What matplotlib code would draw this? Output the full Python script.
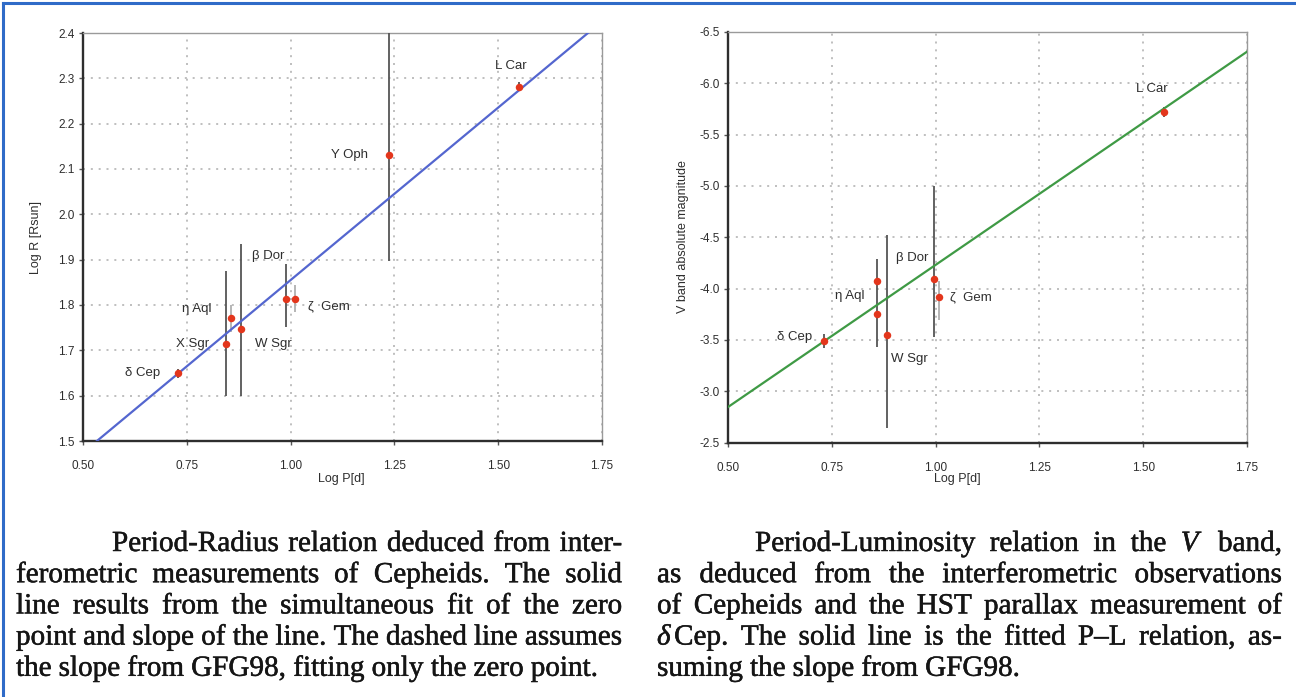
import numpy as np
import matplotlib
matplotlib.use("Agg")
import matplotlib.pyplot as plt
from matplotlib.lines import Line2D
import matplotlib.patheffects as pe

# ---------------- data ----------------
# Period-Radius panel
stars_R = ['δ Cep', 'X Sgr', 'η Aql', 'W Sgr', 'β Dor', 'ζ  Gem', 'Y Oph', 'L Car']
logP_R = [0.730, 0.845, 0.856, 0.881, 0.990, 1.010, 1.237, 1.551]
logR = [1.649, 1.715, 1.771, 1.748, 1.814, 1.814, 2.130, 2.281]
logR_err_lo = [0.010, 0.115, 0.030, 0.148, 0.062, 0.030, 0.232, 0.010]
logR_err_hi = [0.010, 0.161, 0.030, 0.187, 0.077, 0.030, 0.300, 0.010]
light_R = ['η Aql', 'ζ  Gem']
fitR_slope, fitR_icpt = 0.761, 1.094

# Period-Luminosity panel
stars_V = ['δ Cep', 'η Aql', '', 'W Sgr', 'β Dor', 'ζ  Gem', 'L Car']
logP_V = [0.731, 0.859, 0.859, 0.884, 0.996, 1.007, 1.550]
MV = [-3.488, -4.073, -3.750, -3.547, -4.093, -3.914, -5.723]
MV_err_lo = [0.070, 0.000, 0.535, 0.973, 0.907, 0.156, 0.050]
MV_err_hi = [0.070, 0.000, 0.317, 0.907, 0.563, 0.224, 0.050]
light_V = ['ζ  Gem']
fitV_slope, fitV_icpt = -2.77, -1.4605

xticks = [0.50, 0.75, 1.00, 1.25, 1.50, 1.75]
yticks_R = [1.5, 1.6, 1.7, 1.8, 1.9, 2.0, 2.1, 2.2, 2.3, 2.4]
yticks_V = [-6.5, -6.0, -5.5, -5.0, -4.5, -4.0, -3.5, -3.0, -2.5]

# label offsets (pixels) relative to their point
off_R = {'δ Cep': (-36, 0), 'X Sgr': (-34, 0), 'η Aql': (-34, 9), 'W Sgr': (32, -15),
         'β Dor': (-18, 43), 'ζ  Gem': (34, -8), 'Y Oph': (-40, 0), 'L Car': (-9, 21)}
off_V = {'δ Cep': (-29, 4), 'η Aql': (-27, -15), 'W Sgr': (22, -24), 'β Dor': (-22, 21),
         'ζ  Gem': (32, 0), 'L Car': (-12, 23)}

cap_left = [
    "Period-Radius relation deduced from inter-",
    "ferometric measurements of Cepheids. The solid",
    "line results from the simultaneous fit of the zero",
    "point and slope of the line. The dashed line assumes",
    "the slope from GFG98, fitting only the zero point.",
]
cap_right = [
    "Period-Luminosity relation in the $V$ band,",
    "as deduced from the interferometric observations",
    "of Cepheids and the HST parallax measurement of",
    "$\\delta\\,$Cep. The solid line is the fitted P–L relation, as-",
    "suming the slope from GFG98.",
]

# ---------------- style ----------------
plt.rcParams['font.family'] = ['Liberation Sans', 'DejaVu Sans']
plt.rcParams['axes.unicode_minus'] = False
plt.rcParams['mathtext.fontset'] = 'custom'
plt.rcParams['mathtext.rm'] = 'Liberation Serif'
plt.rcParams['mathtext.it'] = 'Liberation Serif:italic'

W, H = 1296, 697
fig = plt.figure(figsize=(W / 100, H / 100), dpi=100)
fig.patch.set_facecolor('white')

RED = '#e3361c'
DARKBAR = '#555555'
LIGHTBAR = '#b0b0b0'
TXT = '#2e2e2e'


def style_axes(ax):
    for s in ['left', 'bottom']:
        ax.spines[s].set_color('#2e2e2e')
        ax.spines[s].set_linewidth(1.7)
    for s in ['top', 'right']:
        ax.spines[s].set_color('#9a9a9a')
        ax.spines[s].set_linewidth(1.0)
    ax.grid(True, color='#b4b4b4', linestyle=(0, (1.2, 3.5)), linewidth=1.2)
    ax.set_axisbelow(True)
    ax.tick_params(axis='both', direction='out', length=3, width=1, color='#555555',
                   labelsize=8.5, labelcolor=TXT)
    ax.tick_params(axis='x', pad=11)
    ax.tick_params(axis='y', pad=3)
    ax.set_xlim(0.5, 1.75)
    ax.set_xticks(xticks)
    ax.set_xticklabels([f"{v:.2f}" for v in xticks])


def draw_points(ax, names, xs, ys, lo, hi, light, offsets):
    for n, x, y, l, h in zip(names, xs, ys, lo, hi):
        if l > 0 or h > 0:
            c = LIGHTBAR if n in light else DARKBAR
            ax.errorbar([x], [y], yerr=[[l], [h]], fmt='none', ecolor=c,
                        elinewidth=1.3, capsize=0, zorder=3, clip_on=True)
    ax.plot(xs, ys, 'o', color=RED, markersize=5.4, markeredgewidth=0, zorder=5)
    for n, x, y in zip(names, xs, ys):
        if n and n in offsets:
            ax.annotate(n, (x, y), xytext=offsets[n], textcoords='offset pixels',
                        ha='center', va='center', fontsize=9.5, color=TXT, zorder=6)


# ---------- left panel ----------
axL = fig.add_axes([83 / W, 1 - 441 / H, (602 - 83) / W, (441 - 33) / H])
style_axes(axL)
axL.set_ylim(1.5, 2.4)
axL.set_yticks(yticks_R)
axL.set_yticklabels([f"{v:.1f}" for v in yticks_R])
xx = np.array([0.5, 1.75])
axL.plot(xx, fitR_slope * xx + fitR_icpt, color='#5466cf', linewidth=1.6, zorder=4)
draw_points(axL, stars_R, logP_R, logR, logR_err_lo, logR_err_hi, light_R, off_R)

# ---------- right panel ----------
axR = fig.add_axes([728 / W, 1 - 442.5 / H, (1247 - 728) / W, (442.5 - 32) / H])
style_axes(axR)
axR.set_ylim(-2.5, -6.5)
axR.set_yticks(yticks_V)
axR.set_yticklabels([f"{v:.1f}" for v in yticks_V])
axR.plot(xx, fitV_slope * xx + fitV_icpt, color='#3f9a45', linewidth=1.6, zorder=4)
draw_points(axR, stars_V, logP_V, MV, MV_err_lo, MV_err_hi, light_V, off_V)

# axis labels
fig.text(36 / W, 1 - 237 / H, 'Log R [Rsun]', rotation=90, ha='center', va='center',
         fontsize=9, color=TXT)
fig.text(683 / W, 1 - 237 / H, 'V band absolute magnitude', rotation=90, ha='center',
         va='center', fontsize=9, color=TXT)
fig.text(341 / W, 1 - 479 / H, 'Log P[d]', ha='center', va='center', fontsize=9,
         color=TXT)
fig.text(957 / W, 1 - 479 / H, 'Log P[d]', ha='center', va='center', fontsize=9,
         color=TXT)

# blue frame (top and left)
fig.add_artist(Line2D([3 / W, 1.0], [1 - 3 / H, 1 - 3 / H], color='#2f6bc8',
                      linewidth=2.2, transform=fig.transFigure))
fig.add_artist(Line2D([3 / W, 3 / W], [0, 1 - 3 / H], color='#2f6bc8',
                      linewidth=2.2, transform=fig.transFigure))

# ---------- justified captions ----------
renderer = fig.canvas.get_renderer()
CAP_SIZE = 21
CAP_FX = [pe.withStroke(linewidth=0.35, foreground='#151515')]


def measure(s):
    t = fig.text(0, 0, s, fontsize=CAP_SIZE, family='Liberation Serif')
    w = t.get_window_extent(renderer).width
    t.remove()
    return w


SPACE_W = measure('a a') - measure('aa')


def caption(lines, x_first, x_left, x_right, y0, dy):
    for i, line in enumerate(lines):
        words = line.split(' ')
        texts = [fig.text(0, 0, w, fontsize=CAP_SIZE, family='Liberation Serif',
                          color='#151515', va='baseline', ha='left',
                          path_effects=CAP_FX) for w in words]
        widths = [t.get_window_extent(renderer).width for t in texts]
        x0 = x_first if i == 0 else x_left
        last = (i == len(lines) - 1)
        if last or len(words) == 1:
            gap = SPACE_W
        else:
            gap = (x_right - x0 - sum(widths)) / (len(words) - 1)
            gap = max(gap, 0.45 * SPACE_W)
        x = x0
        y = y0 + i * dy
        for t, w in zip(texts, widths):
            t.set_position((x / W, 1 - y / H))
            x += w + gap


caption(cap_left, 112, 16, 622, 551, 31.2)
caption(cap_right, 755, 657, 1282, 551, 31.2)

fig.savefig('out.png', dpi=100, facecolor='white')
